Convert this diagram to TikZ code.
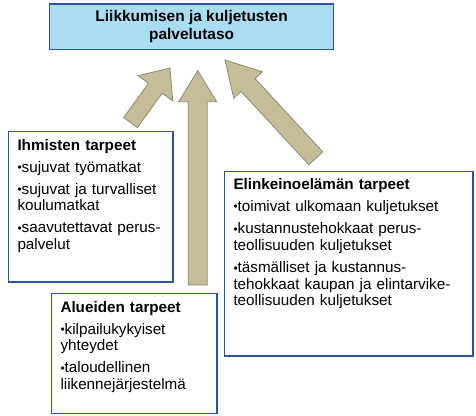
\documentclass[tikz,border=0pt]{standalone}
\usepackage{fontspec}
\setmainfont{Liberation Sans}
\usetikzlibrary{calc}

\definecolor{boxblue}{RGB}{46,84,160}
\definecolor{levelfill}{RGB}{170,221,242}
\definecolor{arrowtan}{RGB}{196,189,151}
\definecolor{arrowedge}{RGB}{138,138,122}

% small bullet as in the slide
\newcommand{\bul}{{\fontsize{12}{12}\selectfont\raisebox{0.5bp}{•}}}

% fat arrow: tail, tip, half shaft, half head, head length
\newcommand{\fatarrow}[5]{%
  \coordinate (hb) at ($(#2)!#5!(#1)$);
  \draw[needarrow] ($(#1)!#3!90:(#2)$) -- ($(hb)!#3!90:(#2)$)
    -- ($(hb)!#4!90:(#2)$) -- (#2) -- ($(hb)!#4!-90:(#2)$)
    -- ($(hb)!#3!-90:(#2)$) -- ($(#1)!#3!-90:(#2)$) -- cycle;
}

\begin{document}
\begin{tikzpicture}[x=1bp, y=-1bp,
    levelbox/.style={rectangle, draw=boxblue, line width=1.5bp, fill=levelfill,
      inner sep=0pt, align=center, font=\fontsize{15.5}{18.2}\selectfont\bfseries},
    needbox/.style={rectangle, draw=boxblue, line width=1.5bp, fill=white,
      anchor=north west, align=left, inner xsep=9bp, inner ysep=0pt,
      font=\fontsize{15.3}{16.6}\selectfont},
    needarrow/.style={fill=arrowtan, draw=arrowedge, line width=0.8bp, line join=miter}
  ]
  \useasboundingbox (0,0) rectangle (476,415);

  % Service level
  \node[levelbox, minimum width=283.75bp, minimum height=45.5bp] (taso) at (191.6,26.5)
    {Liikkumisen ja kuljetusten\\palvelutaso};

  % Arrows
  \coordinate (ihmtail) at (130.5,122.5);
  \coordinate (ihmtip) at (170,68);
  \coordinate (aluetail) at (197.7,285);
  \coordinate (aluetip) at (197.7,70.7);
  \coordinate (elintail) at (315.8,158.3);
  \coordinate (elintip) at (225,60);
  \fatarrow{ihmtail}{ihmtip}{8.5bp}{21.5bp}{25bp}
  \fatarrow{aluetail}{aluetip}{9.5bp}{19bp}{31bp}
  \fatarrow{elintail}{elintip}{9.5bp}{19.5bp}{34bp}

  % Needs
  \node[needbox, text width=146.5bp, text height=19bp, text depth=131.5bp] (ihmiset) at (7.75,130.75)
    {\textbf{Ihmisten tarpeet}\\[5.3bp]
     \bul sujuvat työmatkat\\[5.3bp]
     \bul sujuvat ja turvalliset\\
     koulumatkat\\[5.3bp]
     \bul saavutettavat perus-\\
     palvelut};

  \node[needbox, text width=230.5bp, text height=17.5bp, text depth=167bp] (elinkeino) at (223.75,170.75)
    {\textbf{Elinkeinoelämän tarpeet}\\[5.8bp]
     \bul toimivat ulkomaan kuljetukset\\[5.8bp]
     \bul kustannustehokkaat perus-\\
     teollisuuden kuljetukset\\[5.8bp]
     \bul täsmälliset ja kustannus-\\
     \mbox{tehokkaat kaupan ja elintarvike-}\\
     teollisuuden kuljetukset};

  \node[needbox, text width=147.5bp, text height=19bp, text depth=101bp] (alueet) at (50.75,292.75)
    {\textbf{Alueiden tarpeet}\\[5.3bp]
     \bul kilpailukykyiset\\
     yhteydet\\[5.3bp]
     \bul taloudellinen\\
     liikennejärjestelmä};
\end{tikzpicture}
\end{document}
